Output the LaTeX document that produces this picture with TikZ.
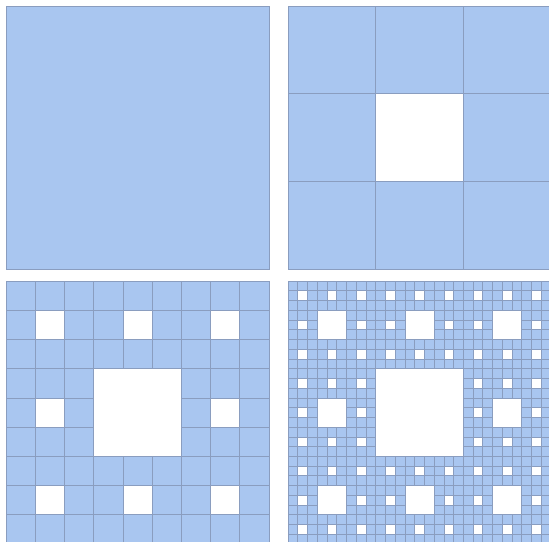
\documentclass[tikz,border=0pt]{standalone}
\usepackage{tikz}
\usepackage{xcolor}
\definecolor{carpetFill}{HTML}{A9C6F0}
\definecolor{carpetLine}{HTML}{8A9DBF}

\begin{document}
\begin{tikzpicture}[x=0.2mm, y=-0.2mm,
  cell/.style={fill=carpetFill, draw=carpetLine, line width=0.4pt}]
  \clip (0,0) rectangle (549,542);
  \fill[white] (0,0) rectangle (549,542);
  \foreach \lev/\ox/\oy in {0/6/6, 1/288/6, 2/6/281, 3/288/281} {
    \pgfmathtruncatemacro\nn{3^\lev}
    \pgfmathsetmacro\cs{263/\nn}
    \pgfmathtruncatemacro\last{\nn-1}
    \foreach \i in {0,...,\last} {
      \foreach \j in {0,...,\last} {
        \pgfmathtruncatemacro\hole{(mod(\i,3)==1 && mod(\j,3)==1) || (mod(int(\i/3),3)==1 && mod(int(\j/3),3)==1) || (int(\i/9)==1 && int(\j/9)==1)}
        \ifnum\hole=0
          \draw[cell] (\ox+\i*\cs, \oy+\j*\cs) rectangle ++(\cs,\cs);
        \fi
      }
    }
  }
\end{tikzpicture}
\end{document}
